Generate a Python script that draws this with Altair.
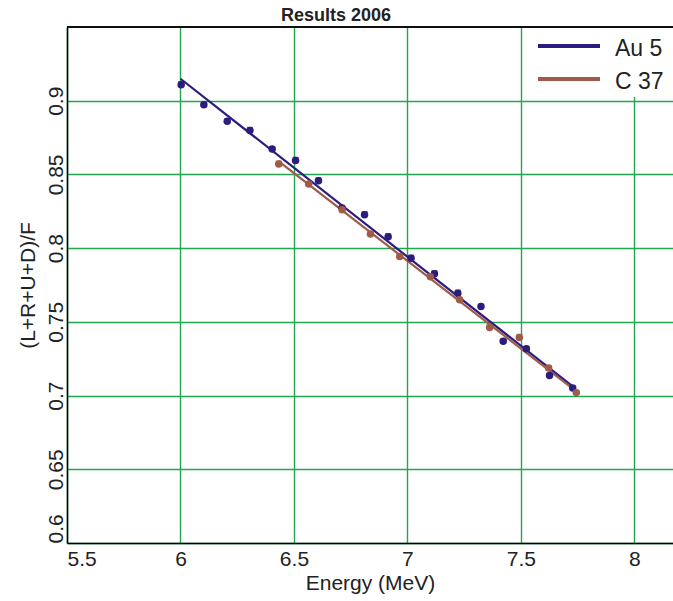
import altair as alt
import pandas as pd

# ---------------- data ----------------
chart_title = ["Results 2006"]
series_names = ["Au 5", "C 37"]
series_colors = ["#2B1C7E", "#A05A48"]

au_energy = [6.003, 6.103, 6.206, 6.306, 6.404, 6.507, 6.608, 6.712, 6.811,
             6.915, 7.016, 7.119, 7.222, 7.324, 7.422, 7.524, 7.626, 7.728]
au_ratio = [0.9109, 0.8973, 0.8860, 0.8798, 0.8672, 0.8595, 0.8457, 0.8272, 0.8227,
            0.8077, 0.7931, 0.7826, 0.7694, 0.7604, 0.7368, 0.7318, 0.7136, 0.7051]
au_err = [0.0020, 0.0015, 0.0015, 0.0020, 0.0015, 0.0020, 0.0020, 0.0015, 0.0020,
          0.0020, 0.0020, 0.0020, 0.0020, 0.0015, 0.0015, 0.0015, 0.0015, 0.0015]

c_energy = [6.433, 6.565, 6.712, 6.837, 6.966, 7.101, 7.230, 7.362, 7.493, 7.622, 7.744]
c_ratio = [0.8570, 0.8435, 0.8260, 0.8096, 0.7944, 0.7806, 0.7650, 0.7462, 0.7394, 0.7187, 0.7020]
c_err = [0.0020, 0.0015, 0.0015, 0.0015, 0.0015, 0.0015, 0.0015, 0.0020, 0.0020, 0.0015, 0.0015]

au_fit_energy = [6.000, 7.728]
au_fit_ratio = [0.9149, 0.7062]
c_fit_energy = [6.433, 7.744]
c_fit_ratio = [0.8588, 0.7028]

x_ticks = [5.5, 6, 6.5, 7, 7.5, 8]
y_ticks = [0.6, 0.65, 0.7, 0.75, 0.8, 0.85, 0.9]

# ---------------- tables ----------------
pts = pd.concat([
    pd.DataFrame({"energy": au_energy, "ratio": au_ratio, "err": au_err, "series": series_names[0]}),
    pd.DataFrame({"energy": c_energy, "ratio": c_ratio, "err": c_err, "series": series_names[1]}),
], ignore_index=True)
pts["lo"] = pts["ratio"] - pts["err"]
pts["hi"] = pts["ratio"] + pts["err"]

fits = pd.concat([
    pd.DataFrame({"energy": au_fit_energy, "ratio": au_fit_ratio, "series": series_names[0]}),
    pd.DataFrame({"energy": c_fit_energy, "ratio": c_fit_ratio, "series": series_names[1]}),
], ignore_index=True)

legend_df = pd.DataFrame({"series": series_names})
title_df = pd.DataFrame({"title": chart_title})

FONT = "Liberation Sans, Arial, sans-serif"
GRID = "#22A652"
W, H = 606, 516

xscale = alt.Scale(domain=[5.5, 8.17], nice=False, zero=False)
yscale = alt.Scale(domain=[0.6, 0.95], nice=False, zero=False)
cscale = alt.Scale(domain=series_names, range=series_colors)

xaxis = alt.Axis(values=x_ticks, format="~g", title="Energy (MeV)", grid=True,
                 gridColor=GRID, gridWidth=1.4, ticks=False, domainColor="black",
                 domainWidth=1.5, labelFont=FONT, labelFontSize=21, labelColor="#222",
                 labelBaseline="alphabetic", labelPadding=22, labelFlush=True,
                 titleFont=FONT, titleFontSize=21, titleFontWeight="normal",
                 titleColor="#222", titleBaseline="alphabetic", titleY=46)
yaxis = alt.Axis(values=y_ticks, format="~g", title="(L+R+U+D)/F", grid=True,
                 gridColor=GRID, gridWidth=1.4, ticks=False, domainColor="black",
                 domainWidth=1.5, labelFont=FONT, labelFontSize=21, labelColor="#222",
                 labelAngle=-90,
                 labelAlign={"condition": {"test": "datum.value <= 0.6", "value": "left"},
                             "value": "center"},
                 labelBaseline="alphabetic",
                 labelPadding=5, titleFont=FONT, titleFontSize=21,
                 titleFontWeight="normal", titleColor="#222", titleAngle=-90,
                 titleAlign="center", titleBaseline="alphabetic", titleX=-33, titleY=258)

X = alt.X("energy:Q", scale=xscale, axis=xaxis)
Y = alt.Y("ratio:Q", scale=yscale, axis=yaxis)
C = alt.Color("series:N", scale=cscale, legend=None)

fit_lines = alt.Chart(fits).mark_line(strokeWidth=2.2, clip=True).encode(
    x=X, y=Y, color=C, detail="series:N")

err_rules = alt.Chart(pts).mark_rule(strokeWidth=1.4).encode(
    x=alt.X("energy:Q", scale=xscale),
    y=alt.Y("lo:Q", scale=yscale),
    y2="hi:Q",
    color=C)
err_caps = alt.Chart(pts).mark_tick(orient="horizontal", size=6, thickness=1.4).encode(
    x=alt.X("energy:Q", scale=xscale),
    y=alt.Y("hi:Q", scale=yscale),
    color=C)
points = alt.Chart(pts).mark_circle(size=56, opacity=1).encode(
    x=alt.X("energy:Q", scale=xscale),
    y=alt.Y("ratio:Q", scale=yscale),
    color=C)

top_border = alt.Chart(legend_df).mark_rule(color="black", strokeWidth=1.5).encode(
    x=alt.value(0), x2=alt.value(W), y=alt.value(0))

main = alt.layer(fit_lines, err_rules, err_caps, points, top_border)

# legend box
legend_box = alt.Chart(legend_df).mark_rect(fill="white", stroke=None).encode(
    x=alt.value(456), x2=alt.value(W), y=alt.value(1), y2=alt.value(70))
ly = alt.Y("series:N", scale=alt.Scale(type="point", domain=series_names,
                                       range=[19, 52], padding=0), axis=None)
legend_lines = alt.Chart(legend_df).mark_rule(strokeWidth=4).encode(
    x=alt.value(471), x2=alt.value(533), y=ly, color=C)
legend_text = alt.Chart(legend_df).mark_text(
    align="left", baseline="middle", dy=3, font=FONT, fontSize=23, color="#222"
).encode(x=alt.value(548), y=ly, text="series:N")

title_text = alt.Chart(title_df).mark_text(
    align="center", baseline="alphabetic", font=FONT, fontSize=18,
    fontWeight="bold", color="#222"
).encode(x=alt.value(269), y=alt.value(-6), text="title:N")

legend = alt.layer(legend_box, legend_lines, legend_text, title_text)

chart = alt.layer(main, legend).resolve_scale(y="independent").properties(
    width=W, height=H,
    padding={"left": 67, "top": 27, "right": 0, "bottom": 58},
    autosize=alt.AutoSizeParams(type="none"),
    background="white",
).configure_view(stroke=None)

chart.save("out.html", embed_options={"renderer": "svg", "actions": False})
